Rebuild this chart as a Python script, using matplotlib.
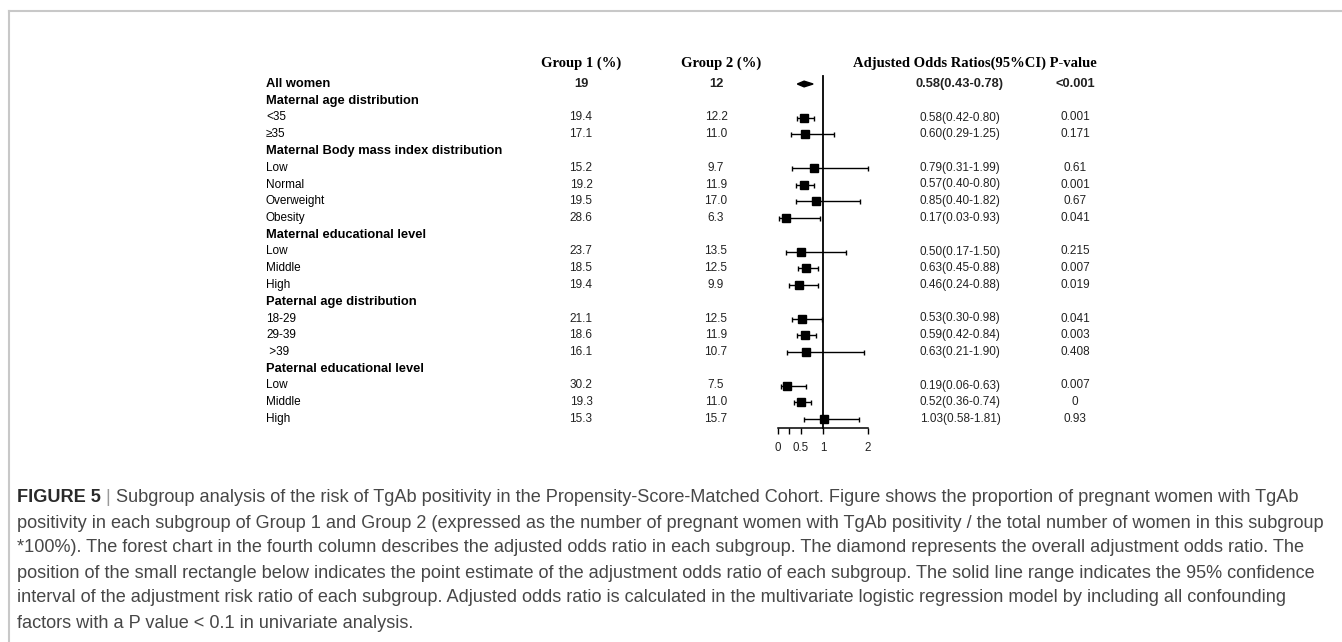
import numpy as np
import matplotlib
matplotlib.use("Agg")
import matplotlib.pyplot as plt
from matplotlib.transforms import blended_transform_factory
from matplotlib.lines import Line2D

# ---------------- data ----------------
labels = ["All women", "Maternal age distribution", "<35", "≥35",
          "Maternal Body mass index distribution", "Low", "Normal", "Overweight", "Obesity",
          "Maternal educational level", "Low", "Middle", "High",
          "Paternal age distribution", "18-29", "29-39", " >39",
          "Paternal educational level", "Low", "Middle", "High"]
bold_rows = [0, 1, 4, 9, 13, 17]
group1 = ["19", "", "19.4", "17.1", "", "15.2", "19.2", "19.5", "28.6", "",
          "23.7", "18.5", "19.4", "", "21.1", "18.6", "16.1", "", "30.2", "19.3", "15.3"]
group2 = ["12", "", "12.2", "11.0", "", "9.7", "11.9", "17.0", "6.3", "",
          "13.5", "12.5", "9.9", "", "12.5", "11.9", "10.7", "", "7.5", "11.0", "15.7"]
nan = np.nan
or_est = [0.58, nan, 0.58, 0.60, nan, 0.79, 0.57, 0.85, 0.17, nan,
          0.50, 0.63, 0.46, nan, 0.53, 0.59, 0.63, nan, 0.19, 0.52, 1.03]
or_lo = [0.43, nan, 0.42, 0.29, nan, 0.31, 0.40, 0.40, 0.03, nan,
         0.17, 0.45, 0.24, nan, 0.30, 0.42, 0.21, nan, 0.06, 0.36, 0.58]
or_hi = [0.78, nan, 0.80, 1.25, nan, 1.99, 0.80, 1.82, 0.93, nan,
         1.50, 0.88, 0.88, nan, 0.98, 0.84, 1.90, nan, 0.63, 0.74, 1.81]
p_values = ["<0.001", "", "0.001", "0.171", "", "0.61", "0.001", "0.67", "0.041", "",
            "0.215", "0.007", "0.019", "", "0.041", "0.003", "0.408", "", "0.007", "0", "0.93"]
x_ticks = [0, 0.25, 0.5, 1, 2]
x_ticklabels = ["0", "", "0.5", "1", "2"]
null_value = 1
headers = ["Group 1 (%)", "Group 2 (%)", "Adjusted Odds Ratios(95%CI) P-value"]

caption_bold = "FIGURE 5"
caption_sep = " | "
caption_lines = [
    "Subgroup analysis of the risk of TgAb positivity in the Propensity-Score-Matched Cohort. Figure shows the proportion of pregnant women with TgAb",
    "positivity in each subgroup of Group 1 and Group 2 (expressed as the number of pregnant women with TgAb positivity / the total number of women in this subgroup",
    "*100%). The forest chart in the fourth column describes the adjusted odds ratio in each subgroup. The diamond represents the overall adjustment odds ratio. The",
    "position of the small rectangle below indicates the point estimate of the adjustment odds ratio of each subgroup. The solid line range indicates the 95% confidence",
    "interval of the adjustment risk ratio of each subgroup. Adjusted odds ratio is calculated in the multivariate logistic regression model by including all confounding",
    "factors with a P value < 0.1 in univariate analysis.",
]

# ---------------- figure ----------------
W, H = 1342, 642
fig = plt.figure(figsize=(W / 100, H / 100), dpi=100)
fig.patch.set_facecolor("white")

def fx(px):
    return px / W

def fy(py):
    return 1 - py / H

# forest axes: x 0..2 spans 778..868 px, rows start at 84px with 16.75px spacing
row0_px, row_step = 84.0, 16.75
ax_top_px, ax_bot_px = 70.0, 427.5
ax = fig.add_axes([fx(778), fy(ax_bot_px), fx(868) - fx(778), (ax_bot_px - ax_top_px) / H])
ax.set_xlim(0, 2)
ax.set_ylim((ax_bot_px - row0_px) / row_step, (ax_top_px - row0_px) / row_step)
ax.patch.set_alpha(0)
for s in ["left", "right", "top"]:
    ax.spines[s].set_visible(False)
ax.spines["bottom"].set_linewidth(1.1)
ax.set_yticks([])
ax.set_xticks(x_ticks)
ax.set_xticklabels(x_ticklabels, fontsize=8.3, family="Liberation Sans", color="#222222")
ax.tick_params(axis="x", length=4, width=1.0, pad=6.5, colors="black")
for t in ax.get_xticklabels():
    t.set_color("#222222")

n = len(labels)
rows = np.arange(n)
est = np.array(or_est)
lo = np.array(or_lo)
hi = np.array(or_hi)

# null line
ax.plot([null_value, null_value], [-0.5, ax.get_ylim()[0]], color="black", lw=1.3,
        clip_on=False, zorder=2)

# subgroup CIs and squares
sub = [i for i in range(n) if i != 0 and not np.isnan(est[i])]
ax.errorbar(est[sub], rows[sub], xerr=[est[sub] - lo[sub], hi[sub] - est[sub]],
            fmt="none", ecolor="black", elinewidth=1.0, capsize=1.8, capthick=1.0,
            clip_on=False, zorder=3)
ax.plot(est[sub], rows[sub], "s", ms=5.4, color="black", clip_on=False, zorder=4)

# overall diamond
h = 0.17
ax.fill([lo[0], est[0], hi[0], est[0]], [rows[0], rows[0] - h, rows[0], rows[0] + h],
        color="black", clip_on=False, zorder=4)

# ---------------- table text ----------------
tr = blended_transform_factory(fig.transFigure, ax.transData)
sans = "Liberation Sans"
fs_reg, fs_bold = 8.5, 9.3
col_label, col_g1, col_g2, col_or, col_p = fx(266), fx(581), fx(716), fx(960), fx(1075)
for i in range(n):
    isb = i in bold_rows
    b = "bold" if isb else "normal"
    fs = fs_bold if isb else fs_reg
    ax.text(col_label, rows[i], labels[i], transform=tr, ha="left", va="center",
            fontsize=fs, fontweight=b, family=sans, color="black")
    if group1[i]:
        ax.text(col_g1, rows[i], group1[i], transform=tr, ha="center", va="center",
                fontsize=fs, fontweight=b, family=sans, color="#222222")
        ax.text(col_g2, rows[i], group2[i], transform=tr, ha="center", va="center",
                fontsize=fs, fontweight=b, family=sans, color="#222222")
    if not np.isnan(est[i]):
        ax.text(col_or, rows[i], f"{est[i]:.2f}({lo[i]:.2f}-{hi[i]:.2f})", transform=tr,
                ha="center", va="center", fontsize=fs, fontweight=b, family=sans,
                color="#222222")
        ax.text(col_p, rows[i], p_values[i], transform=tr, ha="center", va="center",
                fontsize=fs, fontweight=b, family=sans, color="#222222")

hdr_row = (63 - row0_px) / row_step
serif = "Liberation Serif"
ax.text(fx(581), hdr_row, headers[0], transform=tr, ha="center", va="center",
        fontsize=10.5, fontweight="bold", family=serif)
ax.text(fx(721), hdr_row, headers[1], transform=tr, ha="center", va="center",
        fontsize=10.5, fontweight="bold", family=serif)
ax.text(fx(853), hdr_row, headers[2], transform=tr, ha="left", va="center",
        fontsize=10.5, fontweight="bold", family=serif)

# ---------------- frame ----------------
fig.add_artist(Line2D([fx(9), 1], [fy(11), fy(11)], transform=fig.transFigure,
                      color="#c8c8c8", lw=1.5))
fig.add_artist(Line2D([fx(9), fx(9)], [fy(11), 0], transform=fig.transFigure,
                      color="#c8c8c8", lw=1.5))

# ---------------- caption ----------------
cap_color = "#474747"
renderer = fig.canvas.get_renderer()
probe = fig.text(0, 0, caption_lines[1], fontsize=10, family=sans)
wpx = probe.get_window_extent(renderer).width
probe.remove()
cap_fs = 10 * (1333 - 17) / wpx
cap_y0, cap_step = 498, 25
tb = fig.text(fx(17), fy(cap_y0), caption_bold, fontsize=cap_fs, fontweight="bold",
              family=sans, color="#2a2a2a", va="center", ha="left")
bw = tb.get_window_extent(renderer).width
ts = fig.text(fx(17 + bw), fy(cap_y0), caption_sep, fontsize=cap_fs, family=sans,
              color="#9a9a9a", va="center", ha="left")
sw = ts.get_window_extent(renderer).width
for k, line in enumerate(caption_lines):
    x0 = 17 + (bw + sw if k == 0 else 0)
    fig.text(fx(x0), fy(cap_y0 + k * cap_step), line, fontsize=cap_fs, family=sans,
             color=cap_color, va="center", ha="left")

fig.savefig("out.png", dpi=100, facecolor="white")
